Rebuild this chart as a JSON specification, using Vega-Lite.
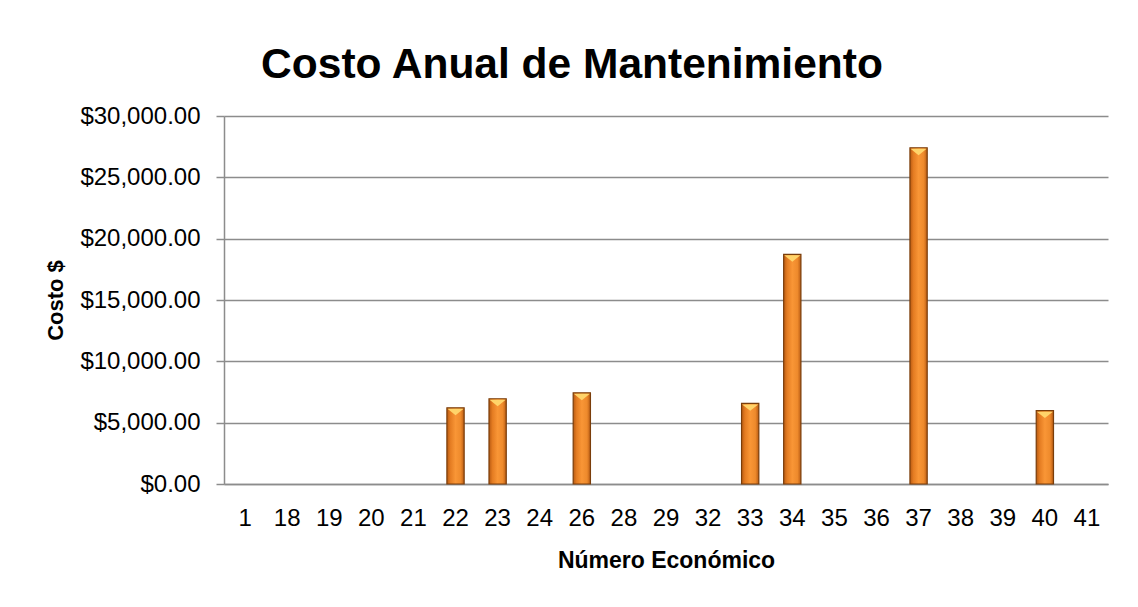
{
  "$schema": "https://vega.github.io/schema/vega-lite/v6.json",
  "autosize": {"type": "none"},
  "width": 884,
  "height": 368,
  "padding": {"left": 224, "top": 116, "right": 30, "bottom": 123},
  "background": "white",
  "title": {
    "text": "Costo Anual de Mantenimiento",
    "font": "Liberation Sans",
    "fontSize": 42.5,
    "fontWeight": "bold",
    "color": "#000000",
    "anchor": "middle",
    "frame": "group",
    "dx": -94,
    "offset": 18
  },
  "data": {
    "values": [
      {"numero": "1", "costo": 0},
      {"numero": "18", "costo": 0},
      {"numero": "19", "costo": 0},
      {"numero": "20", "costo": 0},
      {"numero": "21", "costo": 0},
      {"numero": "22", "costo": 6210},
      {"numero": "23", "costo": 6950},
      {"numero": "24", "costo": 0},
      {"numero": "26", "costo": 7430},
      {"numero": "28", "costo": 0},
      {"numero": "29", "costo": 0},
      {"numero": "32", "costo": 0},
      {"numero": "33", "costo": 6570},
      {"numero": "34", "costo": 18720},
      {"numero": "35", "costo": 0},
      {"numero": "36", "costo": 0},
      {"numero": "37", "costo": 27410},
      {"numero": "38", "costo": 0},
      {"numero": "39", "costo": 0},
      {"numero": "40", "costo": 5980},
      {"numero": "41", "costo": 0}
    ]
  },
  "transform": [{"filter": "datum.costo > 0"}],
  "encoding": {
    "x": {
      "field": "numero",
      "type": "ordinal",
      "sort": null,
      "scale": {
        "domain": ["1","18","19","20","21","22","23","24","26","28","29","32","33","34","35","36","37","38","39","40","41"],
        "paddingInner": 0.59,
        "paddingOuter": 0.295
      },
      "axis": {
        "title": "Número Económico",
        "labelAngle": 0,
        "labelFont": "Liberation Sans",
        "labelFontSize": 24,
        "labelColor": "#000000",
        "labelPadding": 22,
        "ticks": false,
        "domainColor": "#8c8c8c",
        "domainWidth": 1.5,
        "titleFont": "Liberation Sans",
        "titleFontSize": 23,
        "titleFontWeight": "bold",
        "titleColor": "#000000",
        "titlePadding": 19
      }
    },
    "y": {
      "field": "costo",
      "type": "quantitative",
      "scale": {"domain": [0, 30000], "nice": false},
      "axis": {
        "title": "Costo $",
        "values": [0, 5000, 10000, 15000, 20000, 25000, 30000],
        "format": "$,.2f",
        "labelFont": "Liberation Sans",
        "labelFontSize": 24,
        "labelColor": "#000000",
        "labelPadding": 16,
        "tickSize": 8,
        "tickColor": "#8c8c8c",
        "tickWidth": 1.5,
        "domainColor": "#8c8c8c",
        "domainWidth": 1.5,
        "gridColor": "#8c8c8c",
        "gridWidth": 1.5,
        "titleFont": "Liberation Sans",
        "titleFontSize": 22,
        "titleFontWeight": "bold",
        "titleColor": "#000000",
        "titlePadding": 12
      }
    }
  },
  "layer": [
    {
      "mark": {
        "type": "bar",
        "stroke": "#7a3d0a",
        "strokeWidth": 1.2,
        "color": {
          "gradient": "linear",
          "x1": 0, "x2": 1, "y1": 0, "y2": 0,
          "stops": [
            {"offset": 0, "color": "#b85a12"},
            {"offset": 0.2, "color": "#e47c22"},
            {"offset": 0.5, "color": "#f99636"},
            {"offset": 0.8, "color": "#ee8a2c"},
            {"offset": 1, "color": "#b95c14"}
          ]
        }
      }
    },
    {
      "mark": {
        "type": "point",
        "shape": "M-1,0L1,0L0,0.8Z",
        "filled": true,
        "color": "#ffd46a",
        "opacity": 1,
        "size": 260,
        "yOffset": 1
      }
    }
  ],
  "config": {
    "view": {"stroke": null}
  }
}
